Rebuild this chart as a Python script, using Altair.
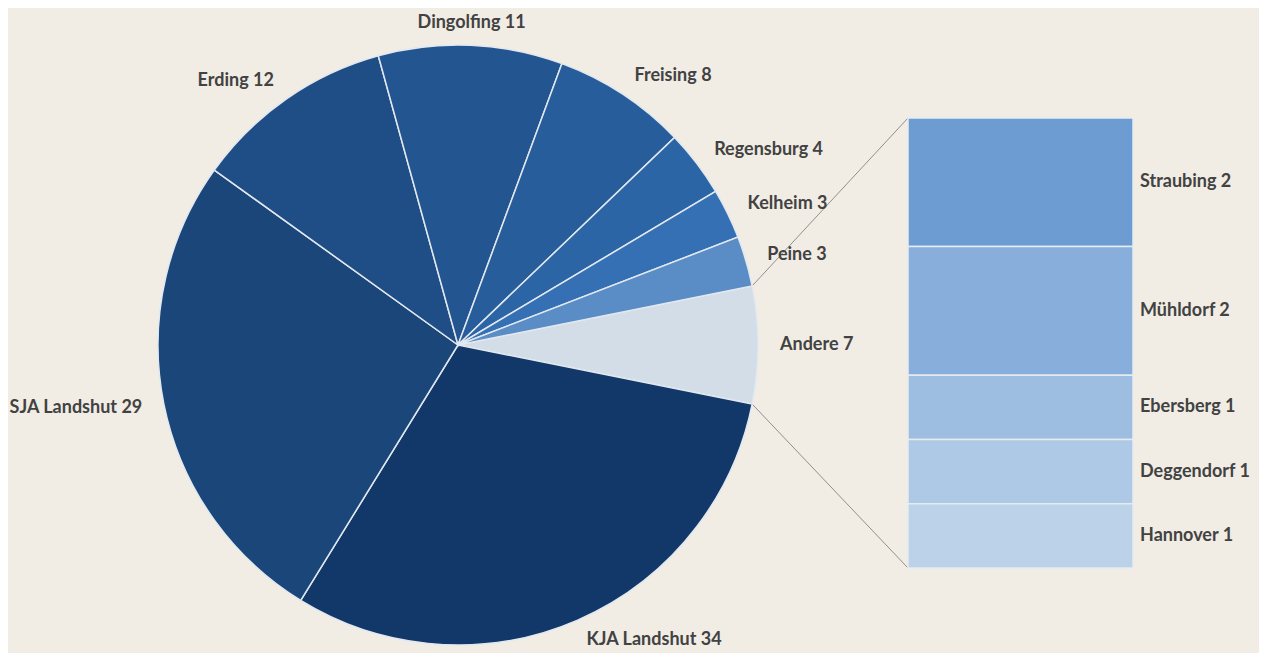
import math
import altair as alt
import pandas as pd

# ---------------- data ----------------
pie_names = ["Andere", "KJA Landshut", "SJA Landshut", "Erding", "Dingolfing",
             "Freising", "Regensburg", "Kelheim", "Peine"]
pie_values = [7, 34, 29, 12, 11, 8, 4, 3, 3]
pie_texts = ["Andere 7", "KJA Landshut 34", "SJA Landshut 29", "Erding 12",
             "Dingolfing 11", "Freising 8", "Regensburg 4", "Kelheim 3", "Peine  3"]
pie_colors = ["#d3dde7", "#12386a", "#1a4679", "#1f4e86", "#235590",
              "#275d9a", "#2c65a6", "#3470b3", "#5a8cc6"]

bar_names = ["Straubing", "Mühldorf", "Ebersberg", "Deggendorf", "Hannover"]
bar_values = [2, 2, 1, 1, 1]
bar_texts = ["Straubing 2", "Mühldorf 2", "Ebersberg 1", "Deggendorf 1", "Hannover 1"]
bar_colors = ["#6c9cd1", "#88afdb", "#9ebee1", "#aec9e6", "#bbd2e9"]

# ---------------- layout ----------------
W, H = 1251, 645
CX, CY, R = 450, 337, 300
LABEL_R = 322
BX0, BX1 = 900, 1125
BY0, BY1 = 110, 560
TEXT_COLOR = "#424242"
FONT = "Lato"
FS = 18

total = sum(pie_values)
other_share = pie_values[0] / total
start = math.pi / 2 - math.pi * other_share  # "Andere" centred on the right

# alignment of each label from its mid angle
aligns = []
cum = 0
for v in pie_values:
    mid = start + 2 * math.pi * (cum + v / 2) / total
    deg = math.degrees(mid) % 360
    cum += v
    if deg < 10 or deg > 350 or 170 < deg < 190:
        aligns.append("center")
    elif deg < 180:
        aligns.append("left")
    else:
        aligns.append("right")

pie_df = pd.DataFrame({"name": pie_names, "value": pie_values, "text": pie_texts,
                       "idx": list(range(len(pie_names))), "align": aligns})
bar_df = pd.DataFrame({"name": bar_names, "value": bar_values, "text": bar_texts,
                       "idx": list(range(len(bar_names)))})

color_scale = alt.Scale(domain=pie_names + bar_names, range=pie_colors + bar_colors)
theta_scale = alt.Scale(domain=[0, total], range=[start, start + 2 * math.pi])

pie_base = alt.Chart(pie_df).encode(
    theta=alt.Theta("value:Q", stack=True, scale=theta_scale),
    order=alt.Order("idx:Q", sort="ascending"),
)
pie = pie_base.mark_arc(x=CX, y=CY, outerRadius=R, stroke="#e2e8ef",
                        strokeWidth=1.5).encode(
    color=alt.Color("name:N", scale=color_scale, legend=None)
)

label_layers = []
for a in ["left", "right", "center"]:
    label_layers.append(
        pie_base.mark_text(x=CX, y=CY, radius=LABEL_R, align=a, baseline="middle",
                           font=FONT, fontSize=FS, fontWeight="bold",
                           color=TEXT_COLOR).encode(
            text=alt.condition(f"datum.align == '{a}'", alt.Text("text:N"),
                               alt.value(""))
        )
    )

bar_base = alt.Chart(bar_df).transform_stack(
    stack="value", groupby=[], as_=["y0", "y1"],
    sort=[alt.SortField("idx", order="ascending")]
).transform_calculate(mid="(datum.y0 + datum.y1) / 2")

y_scale = alt.Scale(domain=[0, sum(bar_values)], range=[BY0, BY1])
bars = bar_base.mark_bar(stroke="#e6ebf0", strokeWidth=1.5).encode(
    x=alt.value(BX0), x2=alt.value(BX1),
    y=alt.Y("y0:Q", scale=y_scale, axis=None), y2="y1:Q",
    color=alt.Color("name:N", scale=color_scale, legend=None),
)
bar_labels = bar_base.mark_text(align="left", baseline="middle", font=FONT,
                                fontSize=FS, fontWeight="bold",
                                color=TEXT_COLOR).encode(
    x=alt.value(BX1 + 7),
    y=alt.Y("mid:Q", scale=y_scale, axis=None),
    text="text:N",
)

# connector lines from the edge of the "Andere" slice to the bar corners
a0 = start
a1 = start + 2 * math.pi * other_share
conn_df = pd.DataFrame({
    "x": [CX + R * math.sin(a0), CX + R * math.sin(a1)],
    "y": [CY - R * math.cos(a0), CY - R * math.cos(a1)],
    "x2": [BX0, BX0],
    "y2": [BY0, BY1],
})
connectors = alt.Chart(conn_df).mark_rule(color="#8f8f8f", strokeWidth=1).encode(
    x=alt.X("x:Q", scale=None, axis=None), y=alt.Y("y:Q", scale=None, axis=None),
    x2="x2:Q", y2="y2:Q",
)

chart = alt.layer(
    connectors, pie, *label_layers, bars, bar_labels
).resolve_scale(y="independent", x="independent").properties(
    width=W, height=H, padding=0, autosize="none", background="#f1ede5"
).configure_view(stroke=None)

chart.save("out.html", embed_options={"renderer": "svg", "actions": False})
